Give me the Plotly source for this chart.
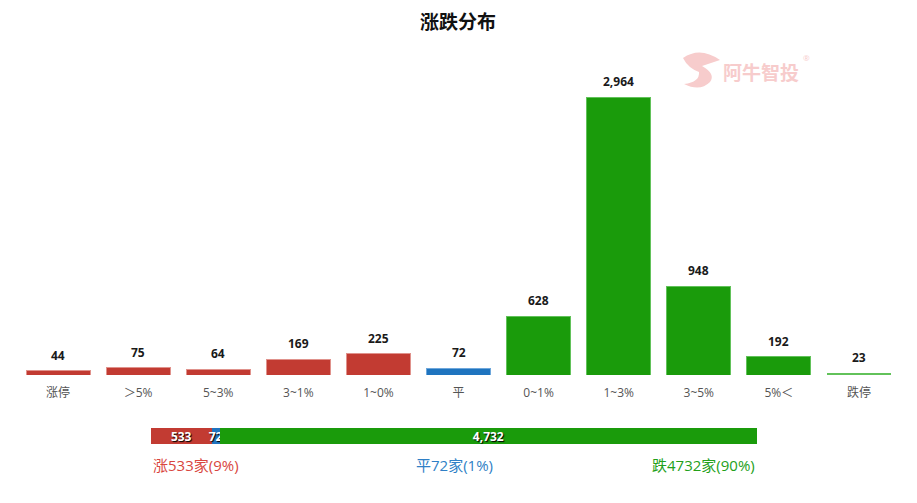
import plotly.graph_objects as go

# 涨跌分布数据
categories = ["涨停", "＞5%", "5~3%", "3~1%", "1~0%", "平", "0~1%", "1~3%", "3~5%", "5%＜", "跌停"]
counts = [44, 75, 64, 169, 225, 72, 628, 2964, 948, 192, 23]

# 汇总
summary_names = ["涨", "平", "跌"]
summary_values = [533, 72, 4732]
summary_pct = [9, 1, 90]

RED = "#c23b32"
BLUE = "#1f74bf"
GREEN = "#1a9b0b"
RED_EDGE = "#e0928c"
BLUE_EDGE = "#6ea7db"
GREEN_EDGE = "#62c25a"

bar_colors = [RED] * 5 + [BLUE] + [GREEN] * 5
edge_colors = [RED_EDGE] * 5 + [BLUE_EDGE] + [GREEN_EDGE] * 5
edge_widths = [1] * 10 + [0]
bar_colors[-1] = GREEN_EDGE

W, H = 917, 503
OFF = 8  # 页面 body 默认边距
FONT = "Open Sans, Noto Sans CJK SC, sans-serif"
CJK = "Noto Sans CJK SC, sans-serif"


def px_y(y):
    return (H - (y - OFF)) / H


def px_x(x):
    return (x - OFF) / W


fig = go.Figure()

# 主柱状图
fig.add_trace(go.Bar(
    x=categories,
    y=counts,
    marker=dict(color=bar_colors, line=dict(color=edge_colors, width=edge_widths)),
    hovertemplate="%{x}: %{y}<extra></extra>",
    showlegend=False,
    xaxis="x", yaxis="y",
))

# 柱顶数值
for cat, val in zip(categories, counts):
    fig.add_annotation(
        x=cat, y=val, xref="x", yref="y", text=f"{val:,}", showarrow=False,
        yanchor="bottom", yshift=5,
        font=dict(size=12, color="#1a1a1a", family=FONT, weight="bold"),
    )

# 汇总横条
summary_colors = [RED, BLUE, GREEN]
for name, val, col in zip(summary_names, summary_values, summary_colors):
    fig.add_trace(go.Bar(
        x=[val],
        y=[0],
        orientation="h",
        width=1,
        marker=dict(color=col, line=dict(width=0)),
        text=[f"{val:,}"],
        textposition="inside",
        insidetextanchor="middle",
        constraintext="none",
        textfont=dict(size=12, color="white", family=FONT, weight="bold",
                      shadow="1px 1px 1px #000"),
        hovertemplate=f"{name}: %{{x}}<extra></extra>",
        showlegend=False,
        xaxis="x2", yaxis="y2",
    ))

total = sum(summary_values)
top_y = 60
range_max = counts[7] * (375 - top_y) / 278

fig.update_layout(
    width=W, height=H,
    margin=dict(l=0, r=0, t=0, b=0),
    paper_bgcolor="white",
    plot_bgcolor="white",
    barmode="stack",
    bargap=0.2,
    font=dict(family=FONT),
    title=dict(text="涨跌分布", x=px_x(458), xanchor="center", y=px_y(22), yanchor="middle",
               font=dict(size=19, color="#111", family=CJK, weight="bold")),
    xaxis=dict(domain=[px_x(18), px_x(899)], showgrid=False, showline=False, zeroline=False,
               ticks="", ticklabelstandoff=9,
               tickfont=dict(size=12, color="#555", family=FONT), fixedrange=True),
    yaxis=dict(domain=[px_y(375), px_y(top_y)], range=[0, range_max], visible=False,
               fixedrange=True),
    xaxis2=dict(domain=[px_x(151), px_x(757)], range=[0, total], visible=False,
                anchor="y2", fixedrange=True),
    yaxis2=dict(domain=[px_y(444), px_y(428)], range=[-0.5, 0.5], visible=False,
                anchor="x2", fixedrange=True),
)

# 汇总文字
label_pos = [(151, "left"), (454, "center"), (757, "right")]
for name, val, pct, col, (xp, anc) in zip(summary_names, summary_values, summary_pct,
                                          ["#d9463e", "#2f7fc6", "#23a01a"], label_pos):
    fig.add_annotation(
        x=px_x(xp), y=px_y(465), xref="paper", yref="paper",
        text=f"{name}{val}家({pct}%)", showarrow=False,
        xanchor=anc, yanchor="middle",
        font=dict(size=15, color=col, family=FONT),
    )

# 水印
fig.add_annotation(
    x=px_x(761), y=px_y(71), xref="paper", yref="paper",
    text="阿牛智投", showarrow=False, xanchor="center", yanchor="middle",
    font=dict(size=19, color="#f7cccc", family=CJK, weight="bold"),
)
fig.add_annotation(
    x=px_x(806), y=px_y(57), xref="paper", yref="paper",
    text="®", showarrow=False, xanchor="center", yanchor="middle",
    font=dict(size=8, color="#f7cccc", family=FONT),
)
fig.add_shape(
    type="path", xref="paper", yref="paper",
    path=(f"M {px_x(683)},{px_y(58)} Q {px_x(700)},{px_y(46)} {px_x(720)},{px_y(60)} "
          f"L {px_x(702)},{px_y(66)} Q {px_x(716)},{px_y(74)} {px_x(710)},{px_y(82)} "
          f"Q {px_x(700)},{px_y(92)} {px_x(684)},{px_y(84)} "
          f"Q {px_x(700)},{px_y(82)} {px_x(699)},{px_y(72)} Q {px_x(688)},{px_y(68)} {px_x(683)},{px_y(58)} Z"),
    fillcolor="#f7cccc", line=dict(width=0), layer="below",
)

fig.write_html("out.html")
